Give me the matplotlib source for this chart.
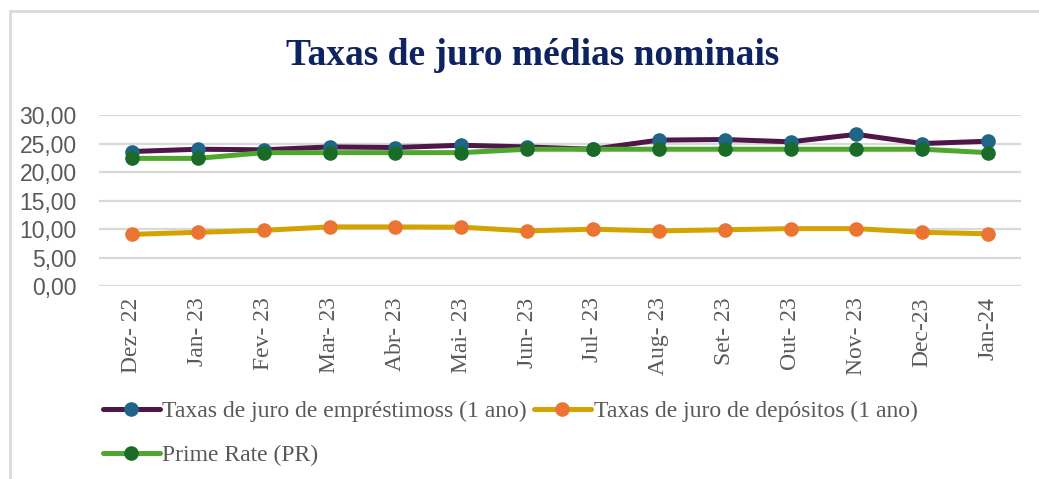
import matplotlib
matplotlib.use("Agg")
import matplotlib.pyplot as plt
from matplotlib.patches import Rectangle

# ============================================================
# DATA
# ============================================================

MONTHS = ["Dez- 22", "Jan- 23", "Fev- 23", "Mar- 23", "Abr- 23", "Mai- 23",
          "Jun- 23", "Jul- 23", "Aug- 23", "Set- 23", "Out- 23", "Nov- 23",
          "Dec-23", "Jan-24"]

LOANS = [23.6, 24.0, 23.9, 24.4, 24.3, 24.7, 24.4, 24.0,
         25.6, 25.7, 25.3, 26.6, 25.0, 25.4]
DEPOSITS = [9.1, 9.45, 9.8, 10.4, 10.4, 10.35, 9.7, 10.0,
            9.7, 9.9, 10.1, 10.1, 9.45, 9.2]
PRIME = [22.4, 22.4, 23.4, 23.4, 23.4, 23.4, 24.0, 24.0,
         24.0, 24.0, 24.0, 24.0, 24.0, 23.4]

Y_TICKS = [0, 5, 10, 15, 20, 25, 30]

TITLE = "Taxas de juro médias nominais"
LABEL_LOANS = "Taxas de juro de empréstimoss (1 ano)"
LABEL_DEPOSITS = "Taxas de juro de depósitos (1 ano)"
LABEL_PRIME = "Prime Rate (PR)"

SERIF = ["Liberation Serif", "DejaVu Serif"]
SANS = ["Liberation Sans", "DejaVu Sans"]
TEXT_GREY = "#595959"


def main() -> None:
    fig = plt.figure(figsize=(10.39, 4.79), dpi=100)
    ax = fig.add_axes([0.0953, 0.4023, 0.8874, 0.3577])

    # chart border (left and top edges visible)
    fig.patches.append(Rectangle((10 / 1039, -0.1), 1.2, 1 - 11 / 479 + 0.1,
                                 transform=fig.transFigure, fill=False,
                                 edgecolor="#D9D9D9", linewidth=2))

    x = list(range(len(MONTHS)))
    line_kw = dict(linewidth=3.6, marker="o", markersize=10.5,
                   markeredgewidth=0, solid_capstyle="round")
    h_loans, = ax.plot(x, LOANS, color="#4F164A", markerfacecolor="#1F6587",
                       label=LABEL_LOANS, zorder=3, **line_kw)
    h_dep, = ax.plot(x, DEPOSITS, color="#D4A300", markerfacecolor="#EC7433",
                     label=LABEL_DEPOSITS, zorder=3, **line_kw)
    h_prime, = ax.plot(x, PRIME, color="#4FA72F", markerfacecolor="#1A6B27",
                       label=LABEL_PRIME, zorder=4, **line_kw)

    ax.set_xlim(-0.5, len(MONTHS) - 0.5)
    ax.set_ylim(0, 30)
    ax.set_yticks(Y_TICKS)
    ax.set_yticklabels([f"{v:.2f}".replace(".", ",") for v in Y_TICKS],
                       family=SANS, fontsize=16.5, color=TEXT_GREY)
    ax.set_xticks(x)
    ax.set_xticklabels(MONTHS, rotation=90, family=SERIF, fontsize=17,
                       color=TEXT_GREY)
    ax.tick_params(axis="x", length=0, pad=8)
    ax.tick_params(axis="y", length=0, pad=16)

    ax.grid(axis="y", color="#D9D9D9", linewidth=1.6)
    ax.set_axisbelow(True)
    for spine in ax.spines.values():
        spine.set_visible(False)

    fig.text(0.513, 0.885, TITLE, ha="center", va="center", family=SERIF,
             fontweight="bold", fontsize=27, color="#0E2461")

    fig.legend([h_loans, h_prime, h_dep], [LABEL_LOANS, LABEL_PRIME, LABEL_DEPOSITS],
               ncol=2, loc="upper left", bbox_to_anchor=(0.099, 0.164),
               frameon=False, handlelength=2.4, handletextpad=0.12,
               columnspacing=0.3, labelspacing=0.95,
               prop={"family": SERIF, "size": 17}, labelcolor=TEXT_GREY,
               borderaxespad=0, borderpad=0)

    fig.savefig("out.png", dpi=100)
    plt.close(fig)


if __name__ == "__main__":
    main()
